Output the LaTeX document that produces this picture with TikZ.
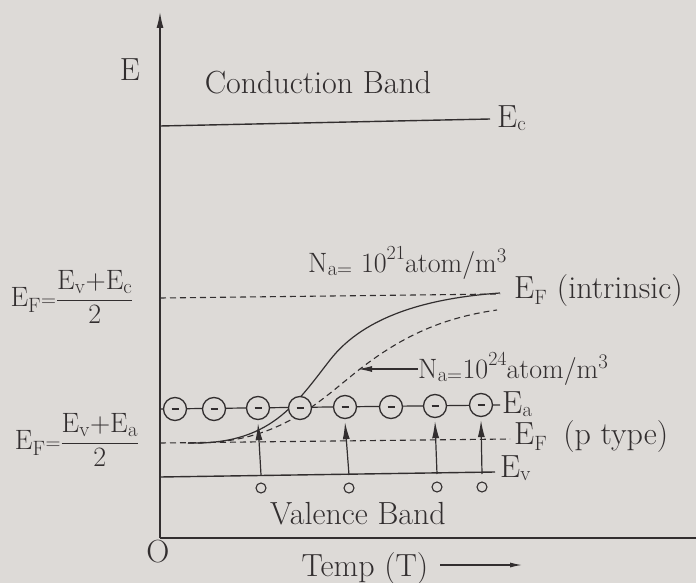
\documentclass[tikz,border=0pt]{standalone}
\usetikzlibrary{arrows.meta}
\newcommand{\supnum}[1]{\raisebox{13pt}{\fontsize{20}{22}\selectfont #1}}
\newcommand{\frc}[2]{$\displaystyle\frac{\hbox{#1}}{\hbox{#2}}$}
\begin{document}
\begin{tikzpicture}[x=1pt,y=-1pt,
  font=\fontsize{32}{36}\selectfont,
  ink/.style={draw=inkc, line width=1.4pt},
  lbl/.style={text=inkc, inner sep=0pt},
  small/.style={font=\fontsize{28}{30}\selectfont},
  dsh/.style={draw=inkc, line width=1.1pt, dash pattern=on 6pt off 4pt},
  acc/.style={draw=inkc, line width=1.3pt, circle, minimum size=23pt, inner sep=0pt, fill=bgc},
  hole/.style={draw=inkc, line width=1.1pt, circle, minimum size=10pt, inner sep=0pt},
  up/.style={draw=inkc, line width=1.2pt, -{Latex[length=17pt,width=7pt]}}
]
\definecolor{bgc}{RGB}{221,218,215}
\definecolor{inkc}{RGB}{50,46,47}
\fill[bgc] (0,0) rectangle (696,583);
\useasboundingbox (0,0) rectangle (696,583);

% axes
\coordinate (O) at (160,538);
\coordinate (Ytop) at (160,12);
\coordinate (Xend) at (696,538);
\draw[ink, -{Latex[length=16pt,width=7pt]}] (O) -- (Ytop);
\draw[ink] (O) -- (Xend);
\node[lbl] (olbl) at (158,552) {O};
\node[lbl] (elbl) at (130,70) {E};
\node[lbl] (temp) at (365,569) {Temp (T)};
\coordinate (ta) at (440,565);
\coordinate (tb) at (522,565);
\draw[ink, line width=1.1pt, -{Latex[length=12pt,width=5pt]}] (ta) -- (tb);

% bands
\node[lbl] (cb) at (318,83) {Conduction Band};
\node[lbl] (vb) at (358,514) {Valence Band};

% E_c
\coordinate (ecl) at (160,126);
\coordinate (ecr) at (490,119);
\draw[ink] (ecl) -- (ecr);
\node[lbl, anchor=west] (ec) at (497,118) {E$_{\mathrm{c}}$};

% E_F intrinsic
\coordinate (efil) at (160,298);
\coordinate (efir) at (500,294);
\draw[dsh] (efil) -- (efir);
\node[lbl, anchor=west] (efi) at (514,291) {E$_{\mathrm{F}}$ (intrinsic)};

% N_a labels
\node[lbl, small, anchor=base west] (na21) at (308,272) {N$_{\mathrm{a=}}$ 10\supnum{21}atom/m$^{3}$};
\node[lbl, small, anchor=base west] (na24) at (418,378) {N$_{\mathrm{a=}}$10\supnum{24}atom/m$^{3}$};
\coordinate (na24tip) at (358,369);
\draw[ink, line width=1.1pt, -{Latex[length=14pt,width=6pt]}] (na24.west |- na24tip) -- (na24tip);

% curves
\draw[ink, line width=1.2pt] (188,443) .. controls (270,445) and (295,405) .. (330,360) .. controls (365,315) and (430,298) .. (500,293);
\draw[dsh, line width=1.1pt] (188,443) .. controls (280,445) and (320,400) .. (360,369) .. controls (400,338) and (440,318) .. (497,310);

% E_v
\coordinate (evl) at (160,477);
\coordinate (evr) at (495,472);
\draw[ink] (evl) -- (evr);
\node[lbl, anchor=west] (ev) at (500,468) {E$_{\mathrm{v}}$};

% E_F p type
\coordinate (efpl) at (160,443);
\coordinate (efpr) at (510,439);
\draw[dsh] (efpl) -- (efpr);
\node[lbl, anchor=west] (efp) at (514,437) {E$_{\mathrm{F}}$\enspace(p type)};

% E_a line with acceptors
\coordinate (eal) at (160,409);
\coordinate (ear) at (500,405);
\draw[ink, line width=1.2pt] (eal) -- (ear);
\node[lbl, anchor=west] (ea) at (502,404) {E$_{\mathrm{a}}$};
\foreach \i/\x/\y in {1/175/409, 2/214/409, 3/258/408, 4/300/408, 5/345/407, 6/391/407, 7/435/406, 8/481/405} {
  \node[acc] (a\i) at (\x,\y) {};
  \draw[inkc, line width=1.8pt] ([xshift=-3.5pt]a\i.center) -- ([xshift=3.5pt]a\i.center);
}

% holes and excitation arrows
\foreach \i/\x/\y in {3/261/488, 5/349/488, 7/437/487, 8/482/487} {
  \node[hole] (h\i) at (\x,\y) {};
  \coordinate (b\i) at (\x,\y-13);
  \draw[up] (b\i) -- ([yshift=-3pt]a\i.south);
}

% left formulas
\node[lbl, small] (f1) at (72,297) {E$_{\mathrm{F}}$$\scriptstyle=$\frc{E$_{\mathrm{v}}$+E$_{\mathrm{c}}$}{2}};
\node[lbl, small] (f2) at (77,440) {E$_{\mathrm{F}}$$\scriptstyle=$\frc{E$_{\mathrm{v}}$+E$_{\mathrm{a}}$}{2}};
\end{tikzpicture}
\end{document}
